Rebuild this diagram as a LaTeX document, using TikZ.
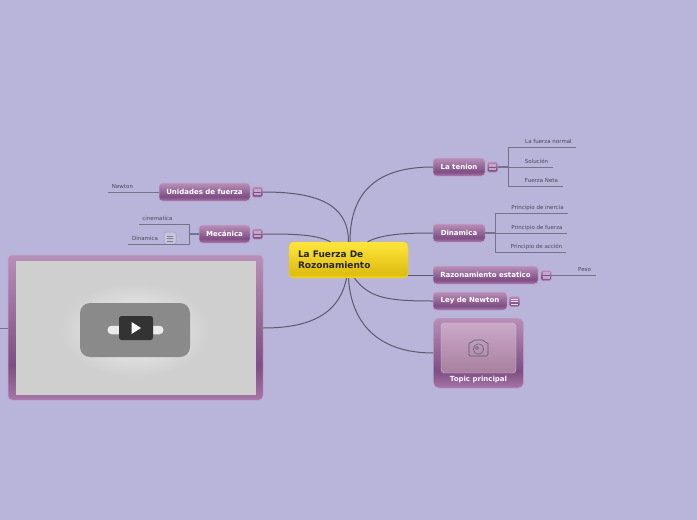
\documentclass[tikz,border=0pt]{standalone}
\usepackage{fontspec}
\setmainfont{DejaVu Sans}
\usetikzlibrary{shapes.geometric}
\definecolor{canvasbg}{HTML}{B8B4DA}
\definecolor{linkgray}{HTML}{5C5A6C}
\definecolor{branchgray}{HTML}{75738A}
\definecolor{leaftext}{HTML}{4A4858}
\definecolor{topicedge}{HTML}{C4A6CC}
\definecolor{topicdark}{HTML}{7E4E84}
\definecolor{topiclight}{HTML}{B88FB8}
\definecolor{topicbot}{HTML}{A676A8}
\definecolor{centraltop}{HTML}{FFE63C}
\definecolor{centralmid}{HTML}{DFBC10}
\definecolor{centralbot}{HTML}{F2D628}
\definecolor{shottop}{HTML}{CBA9C9}
\definecolor{shotbot}{HTML}{A8809F}
\pgfdeclareverticalshading{topicshade}{100bp}{color(0bp)=(topicbot);color(25bp)=(topicbot);color(37bp)=(topicdark);color(75bp)=(topiclight);color(100bp)=(topiclight)}
\pgfdeclareverticalshading{centralshade}{100bp}{color(0bp)=(centralbot);color(25bp)=(centralbot);color(30bp)=(centralmid);color(75bp)=(centraltop);color(100bp)=(centraltop)}
\begin{document}
\begin{tikzpicture}[x=1pt,y=-1pt,
        central/.style={draw=centralbot, line width=0.4pt, rounded corners=4.5pt, shading=centralshade, align=left, text=black!85, font=\fontsize{9}{11.5}\selectfont\bfseries, minimum width=119pt, minimum height=36pt, text width=101pt, inner sep=0pt},
        topic/.style={draw=topicedge, line width=0.5pt, rounded corners=3.5pt, shading=topicshade, text=white, font=\fontsize{7}{8}\selectfont\bfseries, minimum height=18pt, inner sep=0pt},
        topiclabel/.style={text=white!90!topicedge, font=\fontsize{7}{8}\selectfont\bfseries, inner sep=0pt},
        iconbox/.style={draw=topicedge, line width=0.4pt, rounded corners=1.5pt, shading=topicshade, minimum width=10.5pt, minimum height=10.5pt, inner sep=0pt},
        leaf/.style={text=leaftext, font=\fontsize{5.5}{6.5}\selectfont, inner sep=0pt},
        link/.style={draw=linkgray, line width=1pt},
        branch/.style={draw=branchgray, line width=0.65pt},
        stem/.style={draw=branchgray, line width=1.2pt}]
    \useasboundingbox[fill=canvasbg] (0,0) rectangle (697,520);
    % main topic
    \node[central] (root) at (348.5,260) {La Fuerza De\\Rozonamiento};
    % right side topics
    \node[topic, minimum width=52pt] (tenion) at (459,167) {La tenion};
    \node[topic, minimum width=52pt] (dinamica) at (459,233) {Dinamica};
    \node[topic, minimum width=105pt] (razon) at (485.5,275) {Razonamiento estatico};
    \node[topic, minimum width=74pt] (ley) at (470,301) {Ley de Newton};
    \node[draw=topicedge, line width=0.5pt, rounded corners=5pt, shading=topicshade, minimum width=90pt, minimum height=70pt] (principal) at (478.5,353) {};
    \node[draw=topicedge!70!white, line width=0.4pt, rounded corners=3.5pt, top color=shottop, bottom color=shotbot, minimum width=75pt, minimum height=50pt] (shot) at (478.5,348) {};
    \node[topiclabel] (principallabel) at (478.5,379.5) {Topic principal};
    % left side topics
    \node[topic, minimum width=91pt] (unidades) at (204.5,192) {Unidades de fuerza};
    \node[topic, minimum width=51pt] (mecanica) at (224.5,234) {Mecánica};
    \node[draw=topicedge, line width=0.5pt, rounded corners=4pt, shading=topicshade, minimum width=255pt, minimum height=145pt] (video) at (135.5,327.5) {};
    \node[fill=black!19, minimum width=240pt, minimum height=134pt, inner sep=0pt] (screen) at (136,328) {};
    \node[ellipse, inner color=black!5, outer color=black!19, minimum width=150pt, minimum height=96pt, inner sep=0pt] (glow) at (135,330) {};
    \node[fill=black!46, rounded corners=10pt, minimum width=110pt, minimum height=54pt, inner sep=0pt] (thumb) at (135,330) {};
    \node[fill=black!8, rounded corners=4pt, minimum width=56pt, minimum height=8.5pt, inner sep=0pt] (pill) at (135.5,330) {};
    \node[fill=black!80, rounded corners=2.5pt, minimum width=34pt, minimum height=24pt, inner sep=0pt] (play) at (136,328) {};
    \fill[white] ([xshift=-4.5pt,yshift=-6pt]play.center) -- ([xshift=5pt]play.center) -- ([xshift=-4.5pt,yshift=6pt]play.center) -- cycle;
    % camera
    \coordinate (camera) at (478.5,348);
    \draw[linkgray, line width=0.6pt, rounded corners=1.2pt] ([xshift=-9.5pt,yshift=5.5pt]camera) -- ([xshift=-6.5pt,yshift=5.5pt]camera) -- ([xshift=-5pt,yshift=8pt]camera) -- ([xshift=5pt,yshift=8pt]camera) -- ([xshift=6.5pt,yshift=5.5pt]camera) -- ([xshift=9.5pt,yshift=5.5pt]camera) -- ([xshift=9.5pt,yshift=-8pt]camera) -- ([xshift=-9.5pt,yshift=-8pt]camera) -- cycle;
    \draw[linkgray, line width=0.5pt] ([yshift=-1pt]camera) circle (5.2pt);
    \draw[linkgray, line width=0.4pt] ([xshift=-1.5pt,yshift=0pt]camera) circle (1.5pt);
    % small icons
    \node[iconbox] (tenionicon) at (492.5,167) {};
    \node[iconbox] (razonicon) at (546,275.5) {};
    \node[iconbox] (leyicon) at (514.5,301.5) {};
    \node[iconbox] (unidadesicon) at (257.5,192) {};
    \node[iconbox] (mecanicaicon) at (257.5,234) {};
    \foreach \iconname in {tenionicon,razonicon,unidadesicon,mecanicaicon}{
        \fill[topicedge] ([xshift=-3.5pt,yshift=-3.2pt]\iconname.center) rectangle ([xshift=3.5pt,yshift=3.2pt]\iconname.center);
        \draw[topicdark, line width=0.5pt] ([xshift=-3.5pt]\iconname.center) -- ([xshift=3.5pt]\iconname.center);
    }
    \foreach \stripe in {-2.5,0,2.5}
        \draw[white!60!topicedge, line width=0.6pt] ([xshift=-3.5pt,yshift=\stripe pt]leyicon.center) -- ([xshift=3.5pt,yshift=\stripe pt]leyicon.center);
    \node[draw=black!45, draw opacity=0.6, fill=canvasbg!80!white, line width=0.5pt, rounded corners=1.5pt, minimum width=12pt, minimum height=12pt, inner sep=0pt] (dinicon) at (170,238) {};
    \foreach \stripe in {-3,-0.5,2}
        \draw[black!50, line width=0.8pt] ([xshift=-3pt,yshift=\stripe pt]dinicon.center) -- ([xshift=3pt,yshift=\stripe pt]dinicon.center);
    % leaves
    \node[leaf] (normal) at (548.5,141.5) {La fuerza normal};
    \node[leaf] (solucion) at (536.5,161) {Solución};
    \node[leaf] (neta) at (541.5,180.5) {Fuerza Neta};
    \node[leaf] (inercia) at (537.5,207.5) {Principio de inercia};
    \node[leaf] (fuerza) at (537,227.5) {Principio de fuerza};
    \node[leaf] (accion) at (536.5,246.5) {Principio de acción};
    \node[leaf] (peso) at (584.5,269.5) {Peso};
    \node[leaf] (newton) at (122.5,186.5) {Newton};
    \node[leaf] (cinematica) at (157.5,218.5) {cinematica};
    \node[leaf] (dinamicaleaf) at (145,238.5) {Dinamica};
    \coordinate (tenionhub) at (508.5,167);
    \coordinate (dinamicahub) at (495,233);
    \coordinate (mecanicahub) at (189,234);
    \coordinate (normalend) at (576,147.5);
    \coordinate (solucionend) at (553,167);
    \coordinate (netaend) at (563,186);
    \coordinate (inerciaend) at (568,213.5);
    \coordinate (fuerzaend) at (567,233);
    \coordinate (accionend) at (566,252.5);
    \coordinate (pesoend) at (596,275.5);
    \coordinate (newtonend) at (108,192);
    \coordinate (cinematicaend) at (139,224.5);
    \coordinate (dinamicaend) at (128,244);
    \coordinate (videoend) at (0,328);
    % branches
    \draw[stem] (tenionicon) -- (tenionhub);
    \draw[branch] (tenionhub) |- (normalend);
    \draw[branch] (tenionhub) -- (solucionend);
    \draw[branch] (tenionhub) |- (netaend);
    \draw[stem] (dinamica) -- (dinamicahub);
    \draw[branch] (dinamicahub) |- (inerciaend);
    \draw[branch] (dinamicahub) -- (fuerzaend);
    \draw[branch] (dinamicahub) |- (accionend);
    \draw[branch] (razonicon) -- (pesoend);
    \draw[branch] (unidades) -- (newtonend);
    \draw[stem] (mecanica) -- (mecanicahub);
    \draw[branch] (mecanicahub) |- (cinematicaend);
    \draw[branch] (mecanicahub) |- (dinamicaend);
    \draw[branch] (video.west |- videoend) -- (videoend);
    % links from the main topic
    \draw[link] ([xshift=1.5pt]root.north) .. controls +(0,-55) and +(-50,0) .. (tenion.west);
    \draw[link] ([xshift=19pt]root.north) .. controls +(15,-8) and +(-25,0) .. (dinamica.west);
    \draw[link] (root.east |- razon.west) -- (razon.west);
    \draw[link] ([xshift=6pt]root.south) .. controls +(15,20) and +(-45,0) .. (ley.west);
    \draw[link] (root.south) .. controls +(3,50) and +(-50,0) .. (principal.west);
    \draw[link] ([xshift=-2pt]root.south) .. controls +(-8,40) and +(40,0) .. (video.east |- videoend);
    \draw[link] (root.north) .. controls +(0,-40) and +(50,0) .. (unidadesicon.east);
    \draw[link] ([xshift=-18pt]root.north) .. controls +(-15,-8) and +(25,0) .. (mecanicaicon.east);
\end{tikzpicture}
\end{document}
